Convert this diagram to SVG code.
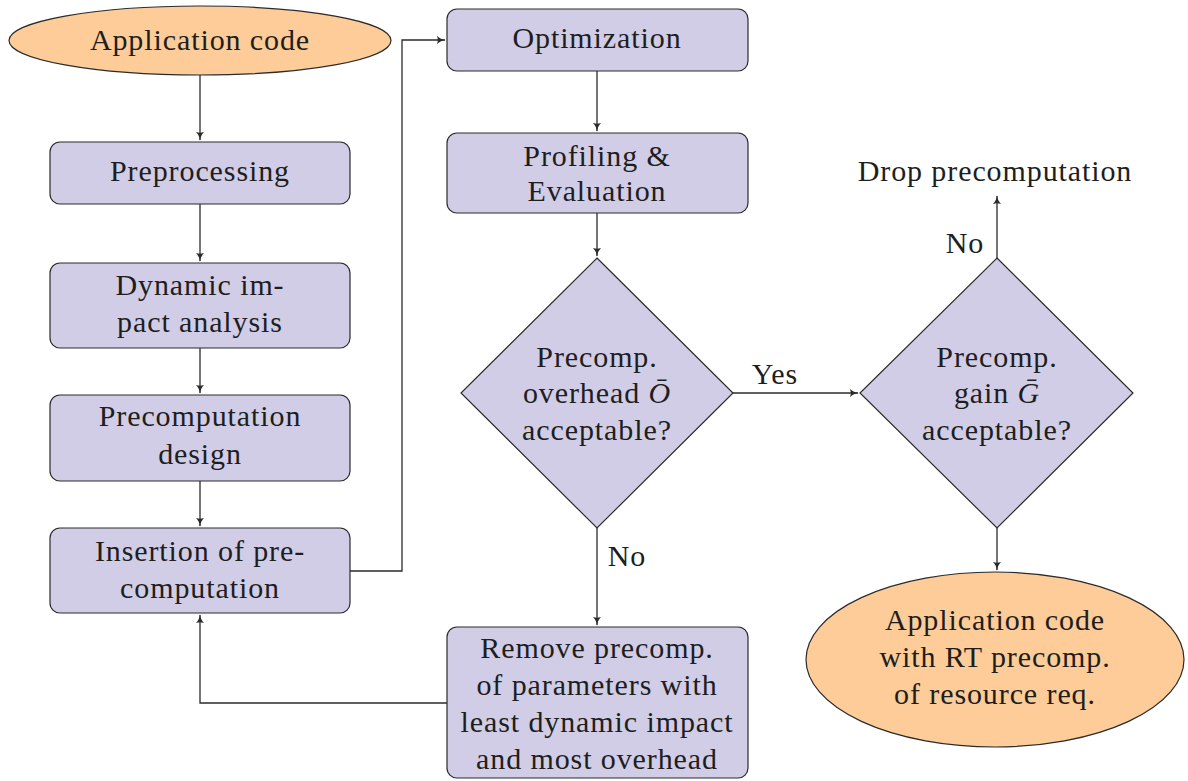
<svg xmlns="http://www.w3.org/2000/svg" width="1188" height="781" viewBox="0 0 1188 781">
  <style>
    .box { fill: #d1cde6; stroke: #2b2b2b; stroke-width: 1.2; }
    .term { fill: #fdcc98; stroke: #2b2b2b; stroke-width: 1.2; }
    .lbl { font-family: "Liberation Serif", "DejaVu Serif", serif; font-size: 30px; letter-spacing: 0.9px; fill: #1e1e1e; text-anchor: middle; }
    .edge { fill: none; stroke: #2b2b2b; stroke-width: 1.3; marker-end: url(#arr); }
  </style>
  <defs>
    <marker id="arr" viewBox="0 0 10 10" refX="9" refY="5" markerWidth="9" markerHeight="9" markerUnits="userSpaceOnUse" orient="auto">
      <path d="M0,0.5 Q4,4.5 10,5 Q4,5.5 0,9.5 Q2,5 0,0.5 Z" fill="#2b2b2b"/>
    </marker>
  </defs>
  <rect width="1188" height="781" fill="#ffffff"/>

  <g id="connectors">
    <path class="edge" d="M200,75 V140"/>
    <path class="edge" d="M200,204 V261"/>
    <path class="edge" d="M200,348 V393"/>
    <path class="edge" d="M200,481 V526"/>
    <path class="edge" d="M350,571 H402 V40 H445"/>
    <path class="edge" d="M597,71 V131"/>
    <path class="edge" d="M597,213 V256"/>
    <path class="edge" d="M733,393 H858"/>
    <path class="edge" d="M597,528 V625"/>
    <path class="edge" d="M447,703 H200 V615"/>
    <path class="edge" d="M997,258 V196"/>
    <path class="edge" d="M997,528 V570"/>
    <text class="lbl" x="775" y="384">Yes</text>
    <text class="lbl" x="627" y="566">No</text>
    <text class="lbl" x="965" y="253">No</text>
  </g>

  <g id="app-code">
    <ellipse class="term" cx="200" cy="40.5" rx="191" ry="34.5"/>
    <text class="lbl" x="200" y="50">Application code</text>
  </g>
  <g id="preprocessing">
    <rect class="box" x="50" y="142" width="300" height="62" rx="10"/>
    <text class="lbl" x="200" y="181">Preprocessing</text>
  </g>
  <g id="dynamic-impact">
    <rect class="box" x="50" y="263" width="300" height="85" rx="10"/>
    <text class="lbl" x="200" y="295">Dynamic im-</text>
    <text class="lbl" x="200" y="332">pact analysis</text>
  </g>
  <g id="precomp-design">
    <rect class="box" x="50" y="395" width="300" height="86" rx="10"/>
    <text class="lbl" x="200" y="426">Precomputation</text>
    <text class="lbl" x="200" y="464">design</text>
  </g>
  <g id="insertion">
    <rect class="box" x="50" y="528" width="300" height="85" rx="10"/>
    <text class="lbl" x="200" y="561">Insertion of pre-</text>
    <text class="lbl" x="200" y="598">computation</text>
  </g>
  <g id="optimization">
    <rect class="box" x="447" y="9" width="301" height="62" rx="10"/>
    <text class="lbl" x="597" y="48">Optimization</text>
  </g>
  <g id="profiling">
    <rect class="box" x="447" y="133" width="301" height="80" rx="10"/>
    <text class="lbl" x="597" y="166">Profiling &amp;</text>
    <text class="lbl" x="597" y="201">Evaluation</text>
  </g>
  <g id="overhead-check">
    <polygon class="box" points="597,258 733,393 597,528 461,393"/>
    <text class="lbl" x="597" y="367">Precomp.</text>
    <text class="lbl" x="597" y="403">overhead <tspan font-style="italic">Ō</tspan></text>
    <text class="lbl" x="597" y="440">acceptable?</text>
  </g>
  <g id="gain-check">
    <polygon class="box" points="997,258 1133,393 997,528 860,393"/>
    <text class="lbl" x="997" y="367">Precomp.</text>
    <text class="lbl" x="997" y="403">gain <tspan font-style="italic">Ḡ</tspan></text>
    <text class="lbl" x="997" y="440">acceptable?</text>
  </g>
  <g id="remove">
    <rect class="box" x="447" y="627" width="301" height="151" rx="10"/>
    <text class="lbl" x="597" y="658">Remove precomp.</text>
    <text class="lbl" x="597" y="695">of parameters with</text>
    <text class="lbl" x="597" y="732">least dynamic impact</text>
    <text class="lbl" x="597" y="769">and most overhead</text>
  </g>
  <g id="drop">
    <text class="lbl" x="995" y="181">Drop precomputation</text>
  </g>
  <g id="result">
    <ellipse class="term" cx="995" cy="659.5" rx="189" ry="87.5"/>
    <text class="lbl" x="995" y="630">Application code</text>
    <text class="lbl" x="995" y="667">with RT precomp.</text>
    <text class="lbl" x="995" y="704">of resource req.</text>
  </g>
</svg>
